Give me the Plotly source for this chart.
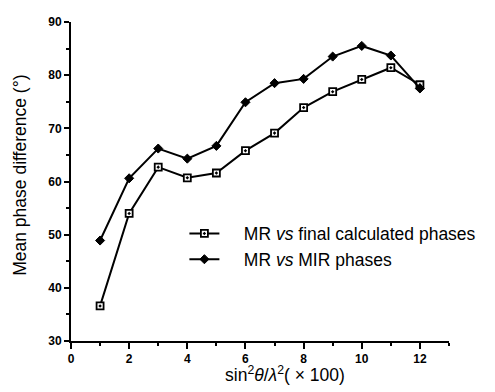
import plotly.graph_objects as go

x_vals = [1, 2, 3, 4, 5, 6, 7, 8, 9, 10, 11, 12]
final_calc = [36.6, 54.0, 62.7, 60.7, 61.6, 65.8, 69.1, 73.9, 76.9, 79.2, 81.4, 78.2]
mir_phases = [48.9, 60.6, 66.2, 64.3, 66.7, 74.9, 78.5, 79.3, 83.5, 85.5, 83.7, 77.5]
x_ticks = [0, 2, 4, 6, 8, 10, 12]
y_ticks = [30, 40, 50, 60, 70, 80, 90]

FONT = "Liberation Sans"
PAD = "&nbsp;" * 4

fig = go.Figure()
fig.add_trace(go.Scatter(
    x=x_vals, y=final_calc, mode="lines+markers",
    name=PAD + "MR <i>vs</i> final calculated phases",
    line=dict(color="black", width=2),
    marker=dict(symbol="square-dot", size=7, color="white",
                line=dict(color="black", width=1.8)),
))
fig.add_trace(go.Scatter(
    x=x_vals, y=mir_phases, mode="lines+markers",
    name=PAD + "MR <i>vs</i> MIR phases",
    line=dict(color="black", width=2),
    marker=dict(symbol="diamond", size=7, color="black",
                line=dict(color="black", width=1)),
))

# page body has an 8px margin, so the figure is sized/offset to compensate
fig.update_layout(
    width=487, height=384,
    margin=dict(l=63, r=46, t=7, b=51),
    paper_bgcolor="white", plot_bgcolor="white",
    font=dict(family=FONT, color="black"),
    showlegend=True,
    legend=dict(x=0.30, y=0.296, xanchor="left", yanchor="middle",
                font=dict(family=FONT, size=17.5, color="black"),
                bgcolor="rgba(0,0,0,0)", itemwidth=30, tracegroupgap=0),
    xaxis=dict(range=[0, 13], tickvals=x_ticks, ticktext=[str(v) for v in x_ticks],
               showgrid=False, zeroline=False, showline=True, linecolor="black",
               linewidth=2, ticks="outside", ticklen=6, tickwidth=2, tickcolor="black",
               tickfont=dict(family=FONT, size=12, weight="bold"),
               ticklabeloverflow="allow",
               minor=dict(dtick=1, ticks="outside", ticklen=3, tickwidth=1.5,
                          tickcolor="black", showgrid=False)),
    yaxis=dict(range=[30, 90], tickvals=y_ticks, ticktext=[str(v) for v in y_ticks],
               showgrid=False, zeroline=False, showline=True, linecolor="black",
               linewidth=2, ticks="outside", ticklen=5, tickwidth=2, tickcolor="black",
               tickfont=dict(family=FONT, size=12, weight="bold"),
               ticklabeloverflow="allow",
               minor=dict(dtick=5, ticks="outside", ticklen=3, tickwidth=1.5,
                          tickcolor="black", showgrid=False)),
)

fig.add_annotation(
    text="Mean phase difference (°)", textangle=-90,
    xref="paper", yref="paper", x=-0.135, y=0.521,
    xanchor="center", yanchor="middle", showarrow=False,
    font=dict(family=FONT, size=17.5, color="black"),
)
fig.add_annotation(
    text="sin<sup>2</sup><i>θ</i>/<i>λ</i><sup>2</sup>( × 100)",
    xref="paper", yref="paper", x=0.567, y=-0.104,
    xanchor="center", yanchor="middle", showarrow=False,
    font=dict(family=FONT, size=17.5, color="black"),
)

fig.write_html("out.html")
